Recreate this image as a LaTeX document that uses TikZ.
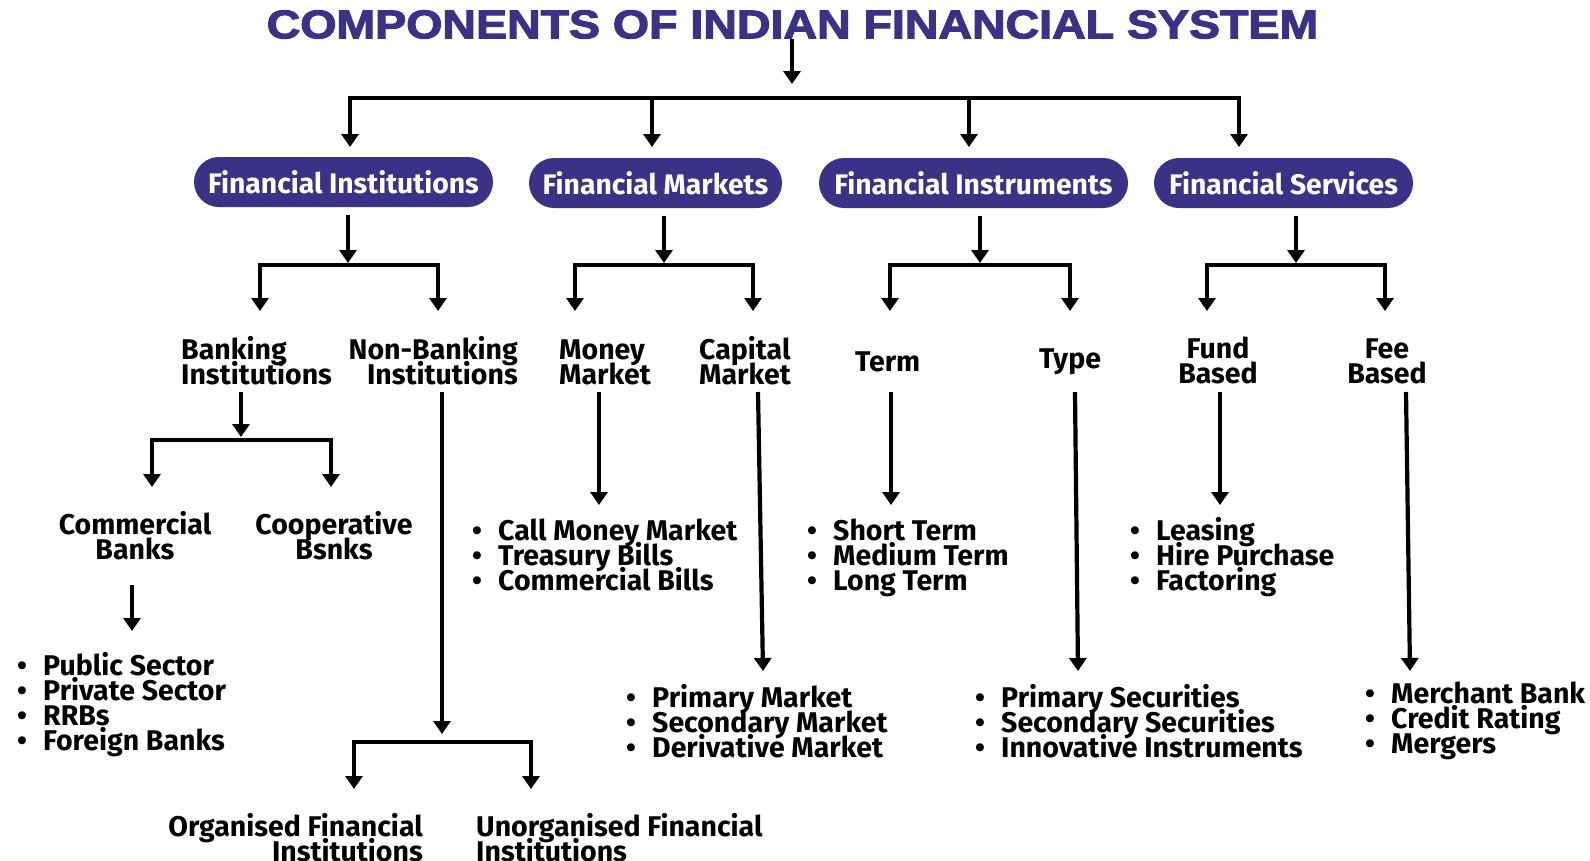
\documentclass[tikz,border=0pt]{standalone}
\usepackage{fontspec}
\setmainfont{Fira Sans}
\newfontfamily\titlefont[FakeBold=2.6]{Liberation Sans Bold}
\usetikzlibrary{arrows.meta}
\definecolor{indigo}{RGB}{59,50,135}
\newcommand\bi{\makebox[26pt][l]{•}}
\newcommand\tl{\rule{0pt}{24pt}}
\newcommand\tightls{\setlength{\lineskiplimit}{-60pt}\setlength{\lineskip}{0pt}}
\begin{document}
\begin{tikzpicture}[x=1pt,y=-1pt,
 arr/.style={line width=4.2pt, -{Triangle[width=17pt,length=13pt]}},
 darr/.style={line width=4.2pt, line join=miter, {Triangle[width=17pt,length=13pt]}-{Triangle[width=17pt,length=13pt]}},
 pill/.style={fill=indigo, text=white, rounded corners=25pt, minimum height=50pt, inner xsep=0pt, font=\bfseries\fontsize{28.3}{28}\selectfont},
 lbl/.style={inner sep=0pt, font=\bfseries\fontsize{28.5}{25.2}\selectfont\tightls},
 lst/.style={inner sep=0pt, align=left, anchor=north west, font=\bfseries\fontsize{28.5}{25}\selectfont\tightls}
]
\fill[white] (0,0) rectangle (1590,860);
\useasboundingbox (0,0) rectangle (1590,860);

% title
\node[inner sep=0pt, text=indigo] (title) at (792.5,24.5)
  {\resizebox{1051pt}{28pt}{\titlefont COMPONENTS OF INDIAN FINANCIAL SYSTEM}};

% pills
\node[pill, minimum width=299pt] (fi) at (343.5,182) {Financial Institutions};
\node[pill, minimum width=253pt] (fm) at (655.5,183) {Financial Markets};
\node[pill, minimum width=309pt] (fn) at (973.5,183) {Financial Instruments};
\node[pill, minimum width=259pt] (fs) at (1283.5,183) {Financial Services};

% top connectors
\coordinate (j0) at (792,84);
\coordinate (c1) at (350,98);  \coordinate (t1) at (350,147);
\coordinate (c2) at (652,98);  \coordinate (t2) at (652,147);
\coordinate (c3) at (969,98);  \coordinate (t3) at (969,147);
\coordinate (c4) at (1239,98); \coordinate (t4) at (1239,147);
\draw[arr] (title.south -| j0) -- (j0);
\draw[darr] (t1) -- (c1) -- (c4) -- (t4);
\draw[arr] (c2) -- (t2);
\draw[arr] (c3) -- (t3);

% level 2 labels (north = first baseline - 24)
\node[lbl, align=left, anchor=north west] (bank) at (181,335) {\tl Banking\\Institutions};
\node[lbl, align=right, anchor=north east] (nbank) at (518,335) {\tl Non-Banking\\Institutions};
\node[lbl, align=left, anchor=north west] (money) at (559,335) {\tl Money\\Market};
\node[lbl, align=left, anchor=north west] (cap) at (699,335) {\tl Capital\\Market};
\node[lbl, anchor=north west] (term) at (855,347) {\tl Term};
\node[lbl, anchor=north west] (type) at (1039,344) {\tl Type};
\node[lbl, align=center, anchor=north] (fund) at (1218,334) {\tl Fund\\Based};
\node[lbl, align=center, anchor=north] (fee) at (1387,334) {\tl Fee\\Based};

% level 2 connectors
\foreach \p/\s/\l/\r in {fi/348/260/438, fm/664/575/753, fn/980/890/1070, fs/1296/1207/1385}{
  \coordinate (\p J) at (\s,263);
  \coordinate (\p L) at (\l,265); \coordinate (\p LT) at (\l,311);
  \coordinate (\p R) at (\r,265); \coordinate (\p RT) at (\r,311);
  \draw[arr, shorten <=8pt] (\p.south -| \p J) -- (\p J);
  \draw[darr] (\p LT) -- (\p L) -- (\p R) -- (\p RT);
}

% banking branch
\coordinate (bS) at (241,392); \coordinate (bJ) at (241,437);
\coordinate (bL) at (152,440); \coordinate (bLT) at (152,487);
\coordinate (bR) at (331,440); \coordinate (bRT) at (331,487);
\draw[arr] (bS) -- (bJ);
\draw[darr] (bLT) -- (bL) -- (bR) -- (bRT);

\node[lbl, align=center, anchor=north] (comm) at (135,510) {\tl Commercial\\Banks};
\node[lbl, align=center, anchor=north] (coop) at (334,510) {\tl Cooperative\\Bsnks};
\coordinate (cmS) at (132,585); \coordinate (cmE) at (132,631);
\draw[arr] (cmS) -- (cmE);
\node[lst] (pub) at (17,651) {\tl\bi Public Sector\\\bi Private Sector\\\bi RRBs\\\bi Foreign Banks};

% non-banking branch
\coordinate (nS) at (442,392); \coordinate (nJ) at (442,734);
\coordinate (nL) at (354,742); \coordinate (nLT) at (354,789);
\coordinate (nR) at (531,742); \coordinate (nRT) at (531,789);
\draw[arr] (nS) -- (nJ);
\draw[darr] (nLT) -- (nL) -- (nR) -- (nRT);
\node[lbl, align=right, anchor=north east] (org) at (423,812) {\tl Organised Financial\\Institutions};
\node[lbl, align=left, anchor=north west] (unorg) at (476,812) {\tl Unorganised Financial\\Institutions};

% markets
\coordinate (mS) at (599,392); \coordinate (mE) at (599,505);
\draw[arr] (mS) -- (mE);
\node[lst] (call) at (472,516) {\tl\bi Call Money Market\\\bi Treasury Bills\\\bi Commercial Bills};
\coordinate (cS) at (758,392); \coordinate (cE) at (763,671);
\draw[arr] (cS) -- (cE);
\node[lst] (pm) at (626,683) {\tl\bi Primary Market\\\bi Secondary Market\\\bi Derivative Market};

% instruments
\coordinate (tS) at (891,392); \coordinate (tE) at (891,505);
\draw[arr] (tS) -- (tE);
\node[lst] (st) at (807,516) {\tl\bi Short Term\\\bi Medium Term\\\bi Long Term};
\coordinate (yS) at (1075,392); \coordinate (yE) at (1078,671);
\draw[arr] (yS) -- (yE);
\node[lst] (ps) at (975,683) {\tl\bi Primary Securities\\\bi Secondary Securities\\\bi Innovative Instruments};

% services
\coordinate (fS) at (1220,392); \coordinate (fE) at (1220,505);
\draw[arr] (fS) -- (fE);
\node[lst] (lease) at (1130,516) {\tl\bi Leasing\\\bi Hire Purchase\\\bi Factoring};
\coordinate (eS) at (1406,392); \coordinate (eE) at (1410,671);
\draw[arr] (eS) -- (eE);
\node[lst] (merch) at (1365,679) {\tl\bi Merchant Bank\\\bi Credit Rating\\\bi Mergers};
\end{tikzpicture}
\end{document}
